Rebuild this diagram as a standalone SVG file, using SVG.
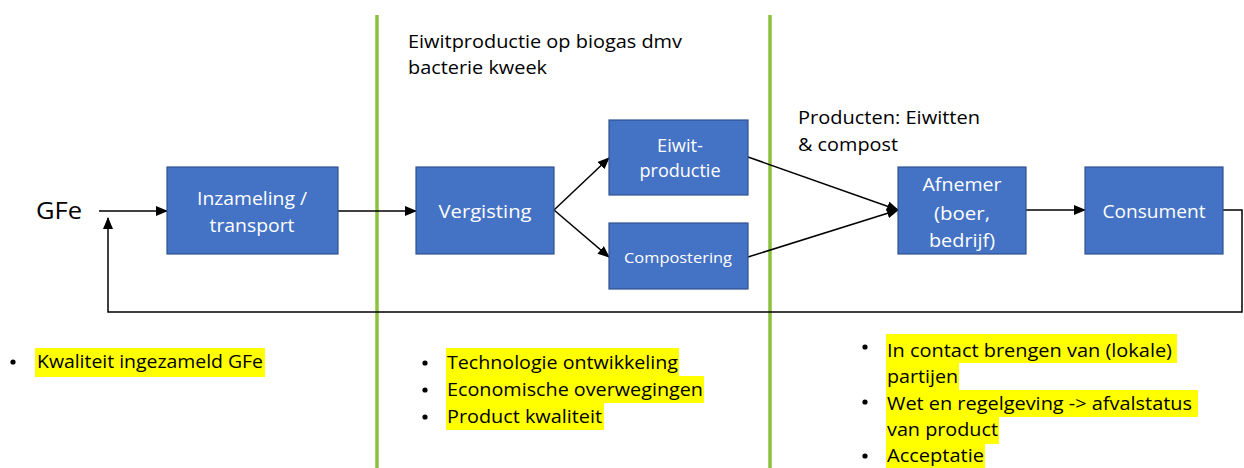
<svg xmlns="http://www.w3.org/2000/svg" width="1244" height="468" viewBox="0 0 1244 468">
<defs>
<marker id="ah" markerUnits="userSpaceOnUse" markerWidth="12" markerHeight="10" refX="11" refY="5" orient="auto">
<path d="M0,0 L12,5 L0,10 Z" fill="#000"/>
</marker>
<style>
.box{fill:#4472C4;stroke:#2F528F;stroke-width:1.2}
.bt{font-family:"Open Sans","Liberation Sans",sans-serif;font-size:19px;fill:#fff;text-anchor:middle}
.t{font-family:"Open Sans","Liberation Sans",sans-serif;font-size:19px;fill:#000}
.c{fill:none;stroke:#000;stroke-width:1.5}
.hl{fill:#FFFF00}
.sep{stroke:#8DC03F;stroke-width:3.5}
</style>
</defs>
<rect width="1244" height="468" fill="#fff"/>
<line class="sep" x1="377" y1="15" x2="377" y2="468"/>
<line class="sep" x1="770" y1="15" x2="770" y2="468"/>

<text class="t" x="408" y="48" textLength="274" lengthAdjust="spacingAndGlyphs">Eiwitproductie op biogas dmv</text>
<text class="t" x="408" y="74" textLength="139" lengthAdjust="spacingAndGlyphs">bacterie kweek</text>
<text class="t" x="798" y="124" textLength="182" lengthAdjust="spacingAndGlyphs">Producten: Eiwitten</text>
<text class="t" x="798" y="151" textLength="100" lengthAdjust="spacingAndGlyphs">&amp; compost</text>

<g id="gfe"><text class="t" x="36" y="219" style="font-size:23px" textLength="46" lengthAdjust="spacingAndGlyphs">GFe</text></g>

<g id="connectors">
<line class="c" x1="99" y1="211" x2="167" y2="211" marker-end="url(#ah)"/>
<line class="c" x1="338" y1="211" x2="416" y2="211" marker-end="url(#ah)"/>
<line class="c" x1="554" y1="210" x2="609" y2="158" marker-end="url(#ah)"/>
<line class="c" x1="554" y1="210" x2="609" y2="257" marker-end="url(#ah)"/>
<line class="c" x1="748" y1="157" x2="898" y2="210" marker-end="url(#ah)"/>
<line class="c" x1="748" y1="257" x2="898" y2="210" marker-end="url(#ah)"/>
<line class="c" x1="1026" y1="210" x2="1085" y2="210" marker-end="url(#ah)"/>
<polyline class="c" points="1223,210 1242,210 1242,312 108,312 108,218" marker-end="url(#ah)"/>
</g>

<g id="inzameling"><rect class="box" x="167" y="167" width="171" height="87"/>
<text class="bt" x="252" y="205" textLength="110" lengthAdjust="spacingAndGlyphs">Inzameling /</text>
<text class="bt" x="252" y="232" textLength="85" lengthAdjust="spacingAndGlyphs">transport</text></g>

<g id="vergisting"><rect class="box" x="416" y="167" width="138" height="87"/>
<text class="bt" x="485" y="218" textLength="93" lengthAdjust="spacingAndGlyphs">Vergisting</text></g>

<g id="eiwitproductie"><rect class="box" x="609" y="120" width="139" height="75"/>
<text class="bt" x="680" y="152" textLength="46" lengthAdjust="spacingAndGlyphs">Eiwit-</text>
<text class="bt" x="680" y="177" textLength="81" lengthAdjust="spacingAndGlyphs">productie</text></g>

<g id="compostering"><rect class="box" x="609" y="223" width="139" height="66"/>
<text class="bt" x="678" y="263" style="font-size:15px" textLength="108" lengthAdjust="spacingAndGlyphs">Compostering</text></g>

<g id="afnemer"><rect class="box" x="898" y="167" width="128" height="87"/>
<text class="bt" x="962" y="191" textLength="79" lengthAdjust="spacingAndGlyphs">Afnemer</text>
<text class="bt" x="962" y="220" textLength="56" lengthAdjust="spacingAndGlyphs">(boer,</text>
<text class="bt" x="962" y="247" textLength="66" lengthAdjust="spacingAndGlyphs">bedrijf)</text></g>

<g id="consument"><rect class="box" x="1085" y="167" width="138" height="87"/>
<text class="bt" x="1154" y="218" textLength="103" lengthAdjust="spacingAndGlyphs">Consument</text></g>

<g id="notes-left">
<circle cx="13" cy="362" r="2.6" fill="#000"/>
<rect class="hl" x="35" y="348" width="230" height="29"/>
<text class="t" x="37" y="368" textLength="226" lengthAdjust="spacingAndGlyphs">Kwaliteit ingezameld GFe</text>
</g>

<g id="notes-mid">
<circle cx="425" cy="363" r="2.6" fill="#000"/>
<circle cx="425" cy="390" r="2.6" fill="#000"/>
<circle cx="425" cy="417" r="2.6" fill="#000"/>
<rect class="hl" x="446" y="348" width="233" height="28"/>
<rect class="hl" x="446" y="376" width="258" height="27"/>
<rect class="hl" x="446" y="403" width="158" height="27"/>
<text class="t" x="447" y="369" textLength="231" lengthAdjust="spacingAndGlyphs">Technologie ontwikkeling</text>
<text class="t" x="447" y="396" textLength="256" lengthAdjust="spacingAndGlyphs">Economische overwegingen</text>
<text class="t" x="447" y="423" textLength="155" lengthAdjust="spacingAndGlyphs">Product kwaliteit</text>
</g>

<g id="notes-right">
<circle cx="865" cy="347" r="2.6" fill="#000"/>
<circle cx="865" cy="402" r="2.6" fill="#000"/>
<circle cx="865" cy="456" r="2.6" fill="#000"/>
<rect class="hl" x="886" y="334" width="291" height="29"/>
<rect class="hl" x="886" y="363" width="73" height="27"/>
<rect class="hl" x="886" y="390" width="312" height="27"/>
<rect class="hl" x="886" y="417" width="113" height="27"/>
<rect class="hl" x="886" y="444" width="99" height="24"/>
<text class="t" x="887" y="357" textLength="285" lengthAdjust="spacingAndGlyphs">In contact brengen van (lokale)</text>
<text class="t" x="887" y="383" textLength="71" lengthAdjust="spacingAndGlyphs">partijen</text>
<text class="t" x="887" y="410" textLength="305" lengthAdjust="spacingAndGlyphs">Wet en regelgeving -&gt; afvalstatus</text>
<text class="t" x="887" y="436" textLength="111" lengthAdjust="spacingAndGlyphs">van product</text>
<text class="t" x="887" y="462" textLength="97" lengthAdjust="spacingAndGlyphs">Acceptatie</text>
</g>
</svg>
